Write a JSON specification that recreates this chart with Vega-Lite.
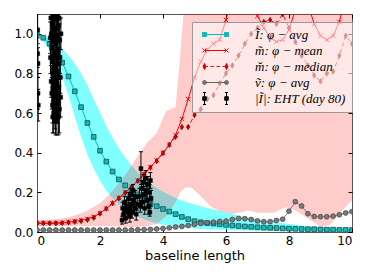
{
  "$schema": "https://vega.github.io/schema/vega-lite/v6.json",
  "width": 315,
  "height": 218,
  "autosize": {"type": "none"},
  "padding": {"left": 37, "top": 14, "right": 22, "bottom": 48},
  "background": "white",
  "config": {
    "view": {"stroke": "#555", "strokeWidth": 1},
    "axis": {
      "grid": false,
      "domain": false,
      "labelFont": "DejaVu Sans",
      "labelFontSize": 12,
      "labelColor": "#000",
      "tickColor": "#000",
      "tickSize": -4,
      "labelPadding": 7,
      "titleFont": "DejaVu Sans",
      "titleFontSize": 13,
      "titleFontWeight": "normal",
      "titleColor": "#000"
    },
    "legend": {
      "labelFont": "Liberation Serif",
      "labelFontSize": 13,
      "labelFontStyle": "italic",
      "labelColor": "#000"
    }
  },
  "datasets": {
    "c": [
      {"b": 0, "I": 1.0, "m": 0.045, "md": 0.044, "g": 0.01},
      {"b": 0.2, "I": 0.98, "m": 0.045, "md": 0.044, "g": 0.01},
      {"b": 0.4, "I": 0.95, "m": 0.045, "md": 0.044, "g": 0.01},
      {"b": 0.6, "I": 0.91, "m": 0.046, "md": 0.044, "g": 0.01},
      {"b": 0.8, "I": 0.855, "m": 0.047, "md": 0.045, "g": 0.01},
      {"b": 1.0, "I": 0.785, "m": 0.05, "md": 0.048, "g": 0.01},
      {"b": 1.2, "I": 0.71, "m": 0.054, "md": 0.052, "g": 0.01},
      {"b": 1.4, "I": 0.63, "m": 0.059, "md": 0.056, "g": 0.01},
      {"b": 1.6, "I": 0.55, "m": 0.066, "md": 0.062, "g": 0.01},
      {"b": 1.8, "I": 0.48, "m": 0.077, "md": 0.072, "g": 0.01},
      {"b": 2.0, "I": 0.41, "m": 0.095, "md": 0.093, "g": 0.01},
      {"b": 2.2, "I": 0.355, "m": 0.118, "md": 0.118, "g": 0.01},
      {"b": 2.4, "I": 0.305, "m": 0.145, "md": 0.145, "g": 0.01},
      {"b": 2.6, "I": 0.265, "m": 0.172, "md": 0.17, "g": 0.01},
      {"b": 2.8, "I": 0.235, "m": 0.2, "md": 0.198, "g": 0.01},
      {"b": 3.0, "I": 0.21, "m": 0.228, "md": 0.226, "g": 0.01},
      {"b": 3.2, "I": 0.19, "m": 0.26, "md": 0.258, "g": 0.011},
      {"b": 3.4, "I": 0.17, "m": 0.292, "md": 0.29, "g": 0.012},
      {"b": 3.6, "I": 0.148, "m": 0.327, "md": 0.325, "g": 0.013},
      {"b": 3.8, "I": 0.13, "m": 0.362, "md": 0.358, "g": 0.015},
      {"b": 4.0, "I": 0.116, "m": 0.4, "md": 0.398, "g": 0.018},
      {"b": 4.2, "I": 0.103, "m": 0.44, "md": 0.44, "g": 0.021},
      {"b": 4.4, "I": 0.09, "m": 0.49, "md": 0.48, "g": 0.025},
      {"b": 4.6, "I": 0.076, "m": 0.57, "md": 0.53, "g": 0.028},
      {"b": 4.8, "I": 0.065, "m": 0.67, "md": 0.53, "g": 0.033},
      {"b": 5.0, "I": 0.055, "m": 0.78, "md": 0.59, "g": 0.038},
      {"b": 5.2, "I": 0.049, "m": 0.86, "md": 0.62, "g": 0.043},
      {"b": 5.4, "I": 0.045, "m": 0.92, "md": 0.67, "g": 0.047},
      {"b": 5.6, "I": 0.042, "m": 0.95, "md": 0.69, "g": 0.05},
      {"b": 5.8, "I": 0.039, "m": 0.97, "md": 0.75, "g": 0.053},
      {"b": 6.0, "I": 0.036, "m": 1.07, "md": 0.8, "g": 0.055},
      {"b": 6.2, "I": 0.033, "m": 1.2, "md": 0.84, "g": 0.063},
      {"b": 6.4, "I": 0.03, "m": 1.3, "md": 0.89, "g": 0.068},
      {"b": 6.6, "I": 0.028, "m": 1.25, "md": 0.95, "g": 0.067},
      {"b": 6.8, "I": 0.026, "m": 1.15, "md": 1.0, "g": 0.063},
      {"b": 7.0, "I": 0.024, "m": 1.09, "md": 1.03, "g": 0.056},
      {"b": 7.2, "I": 0.022, "m": 1.03, "md": 1.06, "g": 0.052},
      {"b": 7.4, "I": 0.021, "m": 0.98, "md": 1.07, "g": 0.052},
      {"b": 7.6, "I": 0.02, "m": 0.96, "md": 1.05, "g": 0.058},
      {"b": 7.8, "I": 0.018, "m": 0.97, "md": 1.1, "g": 0.064},
      {"b": 8.0, "I": 0.017, "m": 1.02, "md": 1.03, "g": 0.105},
      {"b": 8.2, "I": 0.016, "m": 1.12, "md": 0.96, "g": 0.153},
      {"b": 8.4, "I": 0.015, "m": 1.2, "md": 0.89, "g": 0.131},
      {"b": 8.6, "I": 0.014, "m": 1.15, "md": 0.84, "g": 0.092},
      {"b": 8.8, "I": 0.014, "m": 1.05, "md": 0.79, "g": 0.078},
      {"b": 9.0, "I": 0.013, "m": 0.99, "md": 0.76, "g": 0.077},
      {"b": 9.2, "I": 0.012, "m": 0.97, "md": 0.8, "g": 0.077},
      {"b": 9.4, "I": 0.012, "m": 0.99, "md": 0.81, "g": 0.08},
      {"b": 9.6, "I": 0.011, "m": 1.06, "md": 0.89, "g": 0.087},
      {"b": 9.8, "I": 0.011, "m": 1.2, "md": 0.99, "g": 0.096},
      {"b": 10.0, "I": 0.01, "m": 1.3, "md": 0.95, "g": 0.103}
    ],
    "ib": [
      {"b": 0, "lo": 0.99, "hi": 1.0},
      {"b": 0.2, "lo": 0.96, "hi": 0.99},
      {"b": 0.4, "lo": 0.92, "hi": 0.975},
      {"b": 0.6, "lo": 0.86, "hi": 0.955},
      {"b": 0.8, "lo": 0.78, "hi": 0.925},
      {"b": 1.0, "lo": 0.69, "hi": 0.89},
      {"b": 1.2, "lo": 0.58, "hi": 0.85},
      {"b": 1.4, "lo": 0.48, "hi": 0.8},
      {"b": 1.6, "lo": 0.39, "hi": 0.74},
      {"b": 1.8, "lo": 0.32, "hi": 0.67},
      {"b": 2.0, "lo": 0.26, "hi": 0.6},
      {"b": 2.2, "lo": 0.21, "hi": 0.535},
      {"b": 2.4, "lo": 0.17, "hi": 0.475},
      {"b": 2.6, "lo": 0.14, "hi": 0.42},
      {"b": 2.8, "lo": 0.115, "hi": 0.375},
      {"b": 3.0, "lo": 0.095, "hi": 0.335},
      {"b": 3.2, "lo": 0.078, "hi": 0.3},
      {"b": 3.4, "lo": 0.064, "hi": 0.27},
      {"b": 3.6, "lo": 0.053, "hi": 0.245},
      {"b": 3.8, "lo": 0.044, "hi": 0.222},
      {"b": 4.0, "lo": 0.037, "hi": 0.203},
      {"b": 4.4, "lo": 0.027, "hi": 0.172},
      {"b": 4.8, "lo": 0.02, "hi": 0.148},
      {"b": 5.2, "lo": 0.015, "hi": 0.13},
      {"b": 5.6, "lo": 0.012, "hi": 0.113},
      {"b": 6.0, "lo": 0.01, "hi": 0.098},
      {"b": 6.5, "lo": 0.008, "hi": 0.08},
      {"b": 7.0, "lo": 0.006, "hi": 0.064},
      {"b": 7.5, "lo": 0.005, "hi": 0.05},
      {"b": 8.0, "lo": 0.004, "hi": 0.04},
      {"b": 8.5, "lo": 0.003, "hi": 0.032},
      {"b": 9.0, "lo": 0.003, "hi": 0.025},
      {"b": 9.5, "lo": 0.002, "hi": 0.02},
      {"b": 10.0, "lo": 0.002, "hi": 0.016}
    ],
    "pb": [
      {"b": 0, "lo": 0.03, "hi": 0.06},
      {"b": 0.5, "lo": 0.03, "hi": 0.063},
      {"b": 1.0, "lo": 0.03, "hi": 0.075},
      {"b": 1.5, "lo": 0.03, "hi": 0.1},
      {"b": 2.0, "lo": 0.03, "hi": 0.145},
      {"b": 2.3, "lo": 0.03, "hi": 0.19},
      {"b": 2.6, "lo": 0.028, "hi": 0.245},
      {"b": 2.9, "lo": 0.025, "hi": 0.31},
      {"b": 3.2, "lo": 0.025, "hi": 0.385},
      {"b": 3.5, "lo": 0.03, "hi": 0.45},
      {"b": 3.8, "lo": 0.04, "hi": 0.5},
      {"b": 4.1, "lo": 0.08, "hi": 0.61},
      {"b": 4.4, "lo": 0.15, "hi": 0.63},
      {"b": 4.55, "lo": 0.2, "hi": 0.9},
      {"b": 4.7, "lo": 0.225, "hi": 1.2},
      {"b": 4.9, "lo": 0.225, "hi": 1.5},
      {"b": 5.2, "lo": 0.18, "hi": 1.5},
      {"b": 5.5, "lo": 0.13, "hi": 1.5},
      {"b": 5.8, "lo": 0.105, "hi": 1.5},
      {"b": 6.2, "lo": 0.092, "hi": 1.5},
      {"b": 6.5, "lo": 0.1, "hi": 1.5},
      {"b": 6.7, "lo": 0.108, "hi": 1.5},
      {"b": 7.0, "lo": 0.097, "hi": 1.5},
      {"b": 7.5, "lo": 0.097, "hi": 1.5},
      {"b": 7.9, "lo": 0.125, "hi": 1.5},
      {"b": 8.2, "lo": 0.11, "hi": 1.5},
      {"b": 8.6, "lo": 0.068, "hi": 1.5},
      {"b": 9.0, "lo": 0.028, "hi": 1.5},
      {"b": 9.3, "lo": 0.035, "hi": 1.5},
      {"b": 9.7, "lo": 0.11, "hi": 1.5},
      {"b": 10.0, "lo": 0.16, "hi": 1.5}
    ],
    "eht": [
      {"b": 0.02, "v": 1.02, "lo": 0.95, "hi": 1.12},
      {"b": 0.02, "v": 0.9, "lo": 0.83, "hi": 0.98},
      {"b": 0.03, "v": 0.85, "lo": 0.78, "hi": 0.93},
      {"b": 0.03, "v": 0.7, "lo": 0.62, "hi": 0.78},
      {"b": 0.04, "v": 0.64, "lo": 0.56, "hi": 0.72},
      {"b": 0.42, "v": 0.98, "lo": 0.9, "hi": 1.06},
      {"b": 0.43, "v": 0.88, "lo": 0.8, "hi": 0.96},
      {"b": 0.44, "v": 1.08, "lo": 1.0, "hi": 1.16},
      {"b": 0.45, "v": 0.76, "lo": 0.68, "hi": 0.84},
      {"b": 0.46, "v": 1.0, "lo": 0.92, "hi": 1.08},
      {"b": 0.47, "v": 0.93, "lo": 0.85, "hi": 1.01},
      {"b": 0.47, "v": 0.7, "lo": 0.62, "hi": 0.78},
      {"b": 0.48, "v": 0.86, "lo": 0.78, "hi": 0.94},
      {"b": 0.48, "v": 1.12, "lo": 1.04, "hi": 1.2},
      {"b": 0.49, "v": 1.05, "lo": 0.97, "hi": 1.13},
      {"b": 0.49, "v": 0.64, "lo": 0.55, "hi": 0.73},
      {"b": 0.5, "v": 0.8, "lo": 0.72, "hi": 0.88},
      {"b": 0.5, "v": 0.58, "lo": 0.5, "hi": 0.66},
      {"b": 0.51, "v": 0.96, "lo": 0.88, "hi": 1.04},
      {"b": 0.51, "v": 0.72, "lo": 0.63, "hi": 0.81},
      {"b": 0.52, "v": 0.74, "lo": 0.66, "hi": 0.82},
      {"b": 0.52, "v": 1.1, "lo": 1.02, "hi": 1.18},
      {"b": 0.53, "v": 0.89, "lo": 0.81, "hi": 0.97},
      {"b": 0.53, "v": 0.6, "lo": 0.5, "hi": 0.7},
      {"b": 0.54, "v": 0.68, "lo": 0.6, "hi": 0.76},
      {"b": 0.54, "v": 0.99, "lo": 0.91, "hi": 1.07},
      {"b": 0.55, "v": 1.02, "lo": 0.94, "hi": 1.1},
      {"b": 0.55, "v": 0.78, "lo": 0.7, "hi": 0.86},
      {"b": 0.56, "v": 0.83, "lo": 0.75, "hi": 0.91},
      {"b": 0.56, "v": 1.09, "lo": 1.01, "hi": 1.17},
      {"b": 0.57, "v": 0.62, "lo": 0.52, "hi": 0.72},
      {"b": 0.57, "v": 0.9, "lo": 0.82, "hi": 0.98},
      {"b": 0.58, "v": 0.95, "lo": 0.87, "hi": 1.03},
      {"b": 0.58, "v": 0.71, "lo": 0.62, "hi": 0.8},
      {"b": 0.59, "v": 0.77, "lo": 0.69, "hi": 0.85},
      {"b": 0.59, "v": 0.56, "lo": 0.49, "hi": 0.63},
      {"b": 0.6, "v": 1.07, "lo": 0.99, "hi": 1.15},
      {"b": 0.6, "v": 0.84, "lo": 0.76, "hi": 0.92},
      {"b": 0.61, "v": 0.7, "lo": 0.6, "hi": 0.8},
      {"b": 0.61, "v": 0.97, "lo": 0.89, "hi": 1.05},
      {"b": 0.62, "v": 0.88, "lo": 0.8, "hi": 0.96},
      {"b": 0.62, "v": 0.65, "lo": 0.55, "hi": 0.75},
      {"b": 0.63, "v": 0.6, "lo": 0.49, "hi": 0.71},
      {"b": 0.63, "v": 1.03, "lo": 0.95, "hi": 1.11},
      {"b": 0.64, "v": 0.99, "lo": 0.91, "hi": 1.07},
      {"b": 0.64, "v": 0.75, "lo": 0.66, "hi": 0.84},
      {"b": 0.65, "v": 0.8, "lo": 0.72, "hi": 0.88},
      {"b": 0.65, "v": 1.1, "lo": 1.02, "hi": 1.18},
      {"b": 0.66, "v": 0.66, "lo": 0.55, "hi": 0.77},
      {"b": 0.66, "v": 0.9, "lo": 0.82, "hi": 0.98},
      {"b": 0.67, "v": 0.92, "lo": 0.84, "hi": 1.0},
      {"b": 0.68, "v": 1.04, "lo": 0.96, "hi": 1.12},
      {"b": 0.68, "v": 0.58, "lo": 0.49, "hi": 0.67},
      {"b": 0.69, "v": 0.73, "lo": 0.64, "hi": 0.82},
      {"b": 0.7, "v": 0.85, "lo": 0.77, "hi": 0.93},
      {"b": 0.7, "v": 1.08, "lo": 1.0, "hi": 1.16},
      {"b": 0.71, "v": 0.62, "lo": 0.5, "hi": 0.74},
      {"b": 0.72, "v": 0.97, "lo": 0.89, "hi": 1.05},
      {"b": 0.73, "v": 0.88, "lo": 0.8, "hi": 0.96},
      {"b": 0.74, "v": 0.78, "lo": 0.7, "hi": 0.86},
      {"b": 0.75, "v": 0.68, "lo": 0.58, "hi": 0.78},
      {"b": 0.76, "v": 1.0, "lo": 0.92, "hi": 1.08},
      {"b": 2.7, "v": 0.06, "lo": 0.04, "hi": 0.08},
      {"b": 2.72, "v": 0.12, "lo": 0.09, "hi": 0.15},
      {"b": 2.75, "v": 0.09, "lo": 0.06, "hi": 0.12},
      {"b": 2.78, "v": 0.15, "lo": 0.12, "hi": 0.18},
      {"b": 2.8, "v": 0.11, "lo": 0.08, "hi": 0.14},
      {"b": 2.82, "v": 0.07, "lo": 0.045, "hi": 0.095},
      {"b": 2.85, "v": 0.13, "lo": 0.1, "hi": 0.16},
      {"b": 2.88, "v": 0.1, "lo": 0.07, "hi": 0.13},
      {"b": 2.9, "v": 0.17, "lo": 0.14, "hi": 0.2},
      {"b": 2.93, "v": 0.12, "lo": 0.09, "hi": 0.15},
      {"b": 2.95, "v": 0.08, "lo": 0.05, "hi": 0.11},
      {"b": 2.98, "v": 0.19, "lo": 0.16, "hi": 0.22},
      {"b": 3.0, "v": 0.14, "lo": 0.11, "hi": 0.17},
      {"b": 3.02, "v": 0.1, "lo": 0.07, "hi": 0.13},
      {"b": 3.05, "v": 0.21, "lo": 0.18, "hi": 0.24},
      {"b": 3.07, "v": 0.16, "lo": 0.13, "hi": 0.19},
      {"b": 3.1, "v": 0.12, "lo": 0.09, "hi": 0.15},
      {"b": 3.12, "v": 0.18, "lo": 0.15, "hi": 0.21},
      {"b": 3.15, "v": 0.09, "lo": 0.06, "hi": 0.12},
      {"b": 3.18, "v": 0.14, "lo": 0.11, "hi": 0.17},
      {"b": 3.25, "v": 0.18, "lo": 0.14, "hi": 0.22},
      {"b": 3.28, "v": 0.13, "lo": 0.1, "hi": 0.16},
      {"b": 3.3, "v": 0.32, "lo": 0.24, "hi": 0.405},
      {"b": 3.32, "v": 0.22, "lo": 0.18, "hi": 0.26},
      {"b": 3.35, "v": 0.15, "lo": 0.12, "hi": 0.18},
      {"b": 3.38, "v": 0.25, "lo": 0.21, "hi": 0.29},
      {"b": 3.4, "v": 0.19, "lo": 0.15, "hi": 0.23},
      {"b": 3.42, "v": 0.12, "lo": 0.09, "hi": 0.15},
      {"b": 3.45, "v": 0.27, "lo": 0.23, "hi": 0.31},
      {"b": 3.47, "v": 0.21, "lo": 0.17, "hi": 0.25},
      {"b": 3.5, "v": 0.16, "lo": 0.12, "hi": 0.2},
      {"b": 3.52, "v": 0.24, "lo": 0.2, "hi": 0.28},
      {"b": 3.55, "v": 0.13, "lo": 0.09, "hi": 0.17},
      {"b": 3.57, "v": 0.2, "lo": 0.16, "hi": 0.24},
      {"b": 3.58, "v": 0.1, "lo": 0.08, "hi": 0.12},
      {"b": 3.6, "v": 0.26, "lo": 0.22, "hi": 0.3},
      {"b": 3.62, "v": 0.17, "lo": 0.13, "hi": 0.21}
    ],
    "leg": [
      {"s": "Ĩ: φ − avg"},
      {"s": "m̃: φ − mean"},
      {"s": "m̆: φ − median"},
      {"s": "ṽ: φ − avg"},
      {"s": "|Ĩ|: EHT (day 80)"}
    ]
  },
  "layer": [
    {
      "data": {"name": "ib"},
      "mark": {"type": "area", "color": "#00ffff", "opacity": 0.5, "clip": true},
      "encoding": {
        "x": {"field": "b", "type": "quantitative", "scale": {"domain": [0, 10], "nice": false},
              "axis": {"orient": "bottom", "values": [0, 2, 4, 6, 8, 10], "format": "d", "title": "baseline length", "titlePadding": 3}},
        "y": {"field": "lo", "type": "quantitative", "scale": {"domain": [0, 1.1], "nice": false, "zero": false},
              "axis": {"orient": "left", "values": [0, 0.2, 0.4, 0.6, 0.8, 1.0], "format": ".1f", "title": null, "labelPadding": 8}},
        "y2": {"field": "hi"}
      }
    },
    {
      "data": {"name": "pb"},
      "mark": {"type": "area", "color": "#ff0000", "opacity": 0.2, "clip": true},
      "encoding": {
        "x": {"field": "b", "type": "quantitative", "scale": {"domain": [0, 10], "nice": false},
              "axis": {"orient": "top", "values": [0, 2, 4, 6, 8, 10], "labels": false, "title": null}},
        "y": {"field": "lo", "type": "quantitative", "scale": {"domain": [0, 1.1], "nice": false, "zero": false},
              "axis": {"orient": "right", "values": [0, 0.2, 0.4, 0.6, 0.8, 1.0], "labels": false, "title": null}},
        "y2": {"field": "hi"}
      }
    },
    {
      "data": {"name": "c"},
      "mark": {"type": "line", "color": "#00bfbf", "strokeWidth": 1, "clip": true},
      "encoding": {
        "x": {"field": "b", "type": "quantitative", "scale": {"domain": [0, 10], "nice": false}, "axis": null},
        "y": {"field": "I", "type": "quantitative", "scale": {"domain": [0, 1.1], "nice": false, "zero": false}, "axis": null}
      }
    },
    {
      "data": {"name": "c"},
      "mark": {"type": "point", "shape": "square", "filled": true, "size": 22, "fill": "#1ab5b5", "stroke": "#0b3f3f", "strokeWidth": 0.7, "opacity": 1, "clip": true},
      "encoding": {
        "x": {"field": "b", "type": "quantitative", "scale": {"domain": [0, 10], "nice": false}, "axis": null},
        "y": {"field": "I", "type": "quantitative", "scale": {"domain": [0, 1.1], "nice": false, "zero": false}, "axis": null}
      }
    },
    {
      "data": {"name": "c"},
      "mark": {"type": "line", "color": "#ff0000", "strokeWidth": 1, "clip": true},
      "encoding": {
        "x": {"field": "b", "type": "quantitative", "scale": {"domain": [0, 10], "nice": false}, "axis": null},
        "y": {"field": "m", "type": "quantitative", "scale": {"domain": [0, 1.1], "nice": false, "zero": false}, "axis": null}
      }
    },
    {
      "data": {"name": "c"},
      "mark": {"type": "point", "shape": "M-1,-1L1,1M-1,1L1,-1", "filled": false, "size": 20, "stroke": "#ff0000", "strokeWidth": 1, "opacity": 1, "clip": true},
      "encoding": {
        "x": {"field": "b", "type": "quantitative", "scale": {"domain": [0, 10], "nice": false}, "axis": null},
        "y": {"field": "m", "type": "quantitative", "scale": {"domain": [0, 1.1], "nice": false, "zero": false}, "axis": null}
      }
    },
    {
      "data": {"name": "c"},
      "mark": {"type": "line", "color": "#ff0000", "strokeWidth": 1, "strokeDash": [4, 3], "clip": true},
      "encoding": {
        "x": {"field": "b", "type": "quantitative", "scale": {"domain": [0, 10], "nice": false}, "axis": null},
        "y": {"field": "md", "type": "quantitative", "scale": {"domain": [0, 1.1], "nice": false, "zero": false}, "axis": null}
      }
    },
    {
      "data": {"name": "c"},
      "mark": {"type": "point", "shape": "M0,-1L0.6,0L0,1L-0.6,0Z", "filled": true, "size": 30, "fill": "#d00000", "stroke": "#500000", "strokeWidth": 0.6, "opacity": 1, "clip": true},
      "encoding": {
        "x": {"field": "b", "type": "quantitative", "scale": {"domain": [0, 10], "nice": false}, "axis": null},
        "y": {"field": "md", "type": "quantitative", "scale": {"domain": [0, 1.1], "nice": false, "zero": false}, "axis": null}
      }
    },
    {
      "data": {"name": "c"},
      "mark": {"type": "line", "color": "#808080", "strokeWidth": 1, "clip": true},
      "encoding": {
        "x": {"field": "b", "type": "quantitative", "scale": {"domain": [0, 10], "nice": false}, "axis": null},
        "y": {"field": "g", "type": "quantitative", "scale": {"domain": [0, 1.1], "nice": false, "zero": false}, "axis": null}
      }
    },
    {
      "data": {"name": "c"},
      "mark": {"type": "point", "shape": "circle", "filled": true, "size": 24, "fill": "#7a7a7a", "stroke": "#333333", "strokeWidth": 0.6, "opacity": 1, "clip": true},
      "encoding": {
        "x": {"field": "b", "type": "quantitative", "scale": {"domain": [0, 10], "nice": false}, "axis": null},
        "y": {"field": "g", "type": "quantitative", "scale": {"domain": [0, 1.1], "nice": false, "zero": false}, "axis": null}
      }
    },
    {
      "data": {"name": "eht"},
      "mark": {"type": "rule", "color": "#000", "strokeWidth": 1, "clip": true},
      "encoding": {
        "x": {"field": "b", "type": "quantitative", "scale": {"domain": [0, 10], "nice": false}, "axis": null},
        "y": {"field": "lo", "type": "quantitative", "scale": {"domain": [0, 1.1], "nice": false, "zero": false}, "axis": null},
        "y2": {"field": "hi"}
      }
    },
    {
      "data": {"name": "eht"},
      "mark": {"type": "point", "shape": "stroke", "filled": false, "size": 16, "stroke": "#000", "strokeWidth": 1, "opacity": 1, "clip": true},
      "encoding": {
        "x": {"field": "b", "type": "quantitative", "scale": {"domain": [0, 10], "nice": false}, "axis": null},
        "y": {"field": "lo", "type": "quantitative", "scale": {"domain": [0, 1.1], "nice": false, "zero": false}, "axis": null}
      }
    },
    {
      "data": {"name": "eht"},
      "mark": {"type": "point", "shape": "stroke", "filled": false, "size": 16, "stroke": "#000", "strokeWidth": 1, "opacity": 1, "clip": true},
      "encoding": {
        "x": {"field": "b", "type": "quantitative", "scale": {"domain": [0, 10], "nice": false}, "axis": null},
        "y": {"field": "hi", "type": "quantitative", "scale": {"domain": [0, 1.1], "nice": false, "zero": false}, "axis": null}
      }
    },
    {
      "data": {"name": "eht"},
      "mark": {"type": "point", "shape": "square", "filled": true, "size": 16, "fill": "#000", "stroke": "#000", "strokeWidth": 0.5, "opacity": 1, "clip": true},
      "encoding": {
        "x": {"field": "b", "type": "quantitative", "scale": {"domain": [0, 10], "nice": false}, "axis": null},
        "y": {"field": "v", "type": "quantitative", "scale": {"domain": [0, 1.1], "nice": false, "zero": false}, "axis": null}
      }
    },
    {
      "data": {"name": "leg"},
      "mark": {"type": "point", "filled": true, "opacity": 0},
      "encoding": {
        "fill": {"field": "s", "type": "nominal",
          "scale": {"domain": ["Ĩ: φ − avg", "m̃: φ − mean", "m̆: φ − median", "ṽ: φ − avg", "|Ĩ|: EHT (day 80)"],
                    "range": ["#1ab5b5", "#ff0000", "#d00000", "#7a7a7a", "#000000"]},
          "legend": {
            "title": null, "orient": "none", "legendX": 155, "legendY": 8,
            "fillColor": "rgba(255,255,255,0.55)", "strokeColor": "#999", "padding": 6,
            "symbolSize": 100, "symbolOpacity": 1, "symbolStrokeWidth": 1,
            "symbolOffset": 11, "labelOffset": 33, "rowPadding": 2, "clipHeight": 13
          }},
        "stroke": {"field": "s", "type": "nominal",
          "scale": {"domain": ["Ĩ: φ − avg", "m̃: φ − mean", "m̆: φ − median", "ṽ: φ − avg", "|Ĩ|: EHT (day 80)"],
                    "range": ["#00bfbf", "#ff0000", "#ff0000", "#666666", "#000000"]},
          "legend": {
            "title": null, "orient": "none", "legendX": 155, "legendY": 8,
            "fillColor": "rgba(255,255,255,0.55)", "strokeColor": "#999", "padding": 6,
            "symbolSize": 100, "symbolOpacity": 1, "symbolStrokeWidth": 1,
            "symbolOffset": 11, "labelOffset": 33, "rowPadding": 2, "clipHeight": 13
          }},
        "shape": {"field": "s", "type": "nominal",
          "scale": {"domain": ["Ĩ: φ − avg", "m̃: φ − mean", "m̆: φ − median", "ṽ: φ − avg", "|Ĩ|: EHT (day 80)"],
                    "range": [
                      "M-2.2,0H2.2M-2.6,-0.4H-1.8V0.4H-2.6ZM1.8,-0.4H2.6V0.4H1.8Z",
                      "M-2.2,0H2.2M-2.6,-0.4L-1.8,0.4M-2.6,0.4L-1.8,-0.4M1.8,-0.4L2.6,0.4M1.8,0.4L2.6,-0.4",
                      "M-2.2,0H-1.5M-1.0,0H-0.3M0.2,0H0.9M1.4,0H2.2M-2.2,-0.6L-1.9,0L-2.2,0.6L-2.5,0ZM2.2,-0.6L2.5,0L2.2,0.6L1.9,0Z",
                      "M-2.2,0H2.2M-2.2,-0.4A0.4,0.4 0 1 1 -2.2,0.4A0.4,0.4 0 1 1 -2.2,-0.4ZM2.2,-0.4A0.4,0.4 0 1 1 2.2,0.4A0.4,0.4 0 1 1 2.2,-0.4Z",
                      "M-2.2,-1.2V1.2M-2.5,-1.2H-1.9M-2.5,1.2H-1.9M-2.55,-0.35H-1.85V0.35H-2.55ZM2.2,-1.2V1.2M1.9,-1.2H2.5M1.9,1.2H2.5M1.85,-0.35H2.55V0.35H1.85Z"
                    ]},
          "legend": {
            "title": null, "orient": "none", "legendX": 155, "legendY": 8,
            "fillColor": "rgba(255,255,255,0.55)", "strokeColor": "#999", "padding": 6,
            "symbolSize": 100, "symbolOpacity": 1, "symbolStrokeWidth": 1,
            "symbolOffset": 11, "labelOffset": 33, "rowPadding": 2, "clipHeight": 13
          }}
      }
    }
  ],
  "resolve": {"axis": {"x": "independent", "y": "independent"}}
}
